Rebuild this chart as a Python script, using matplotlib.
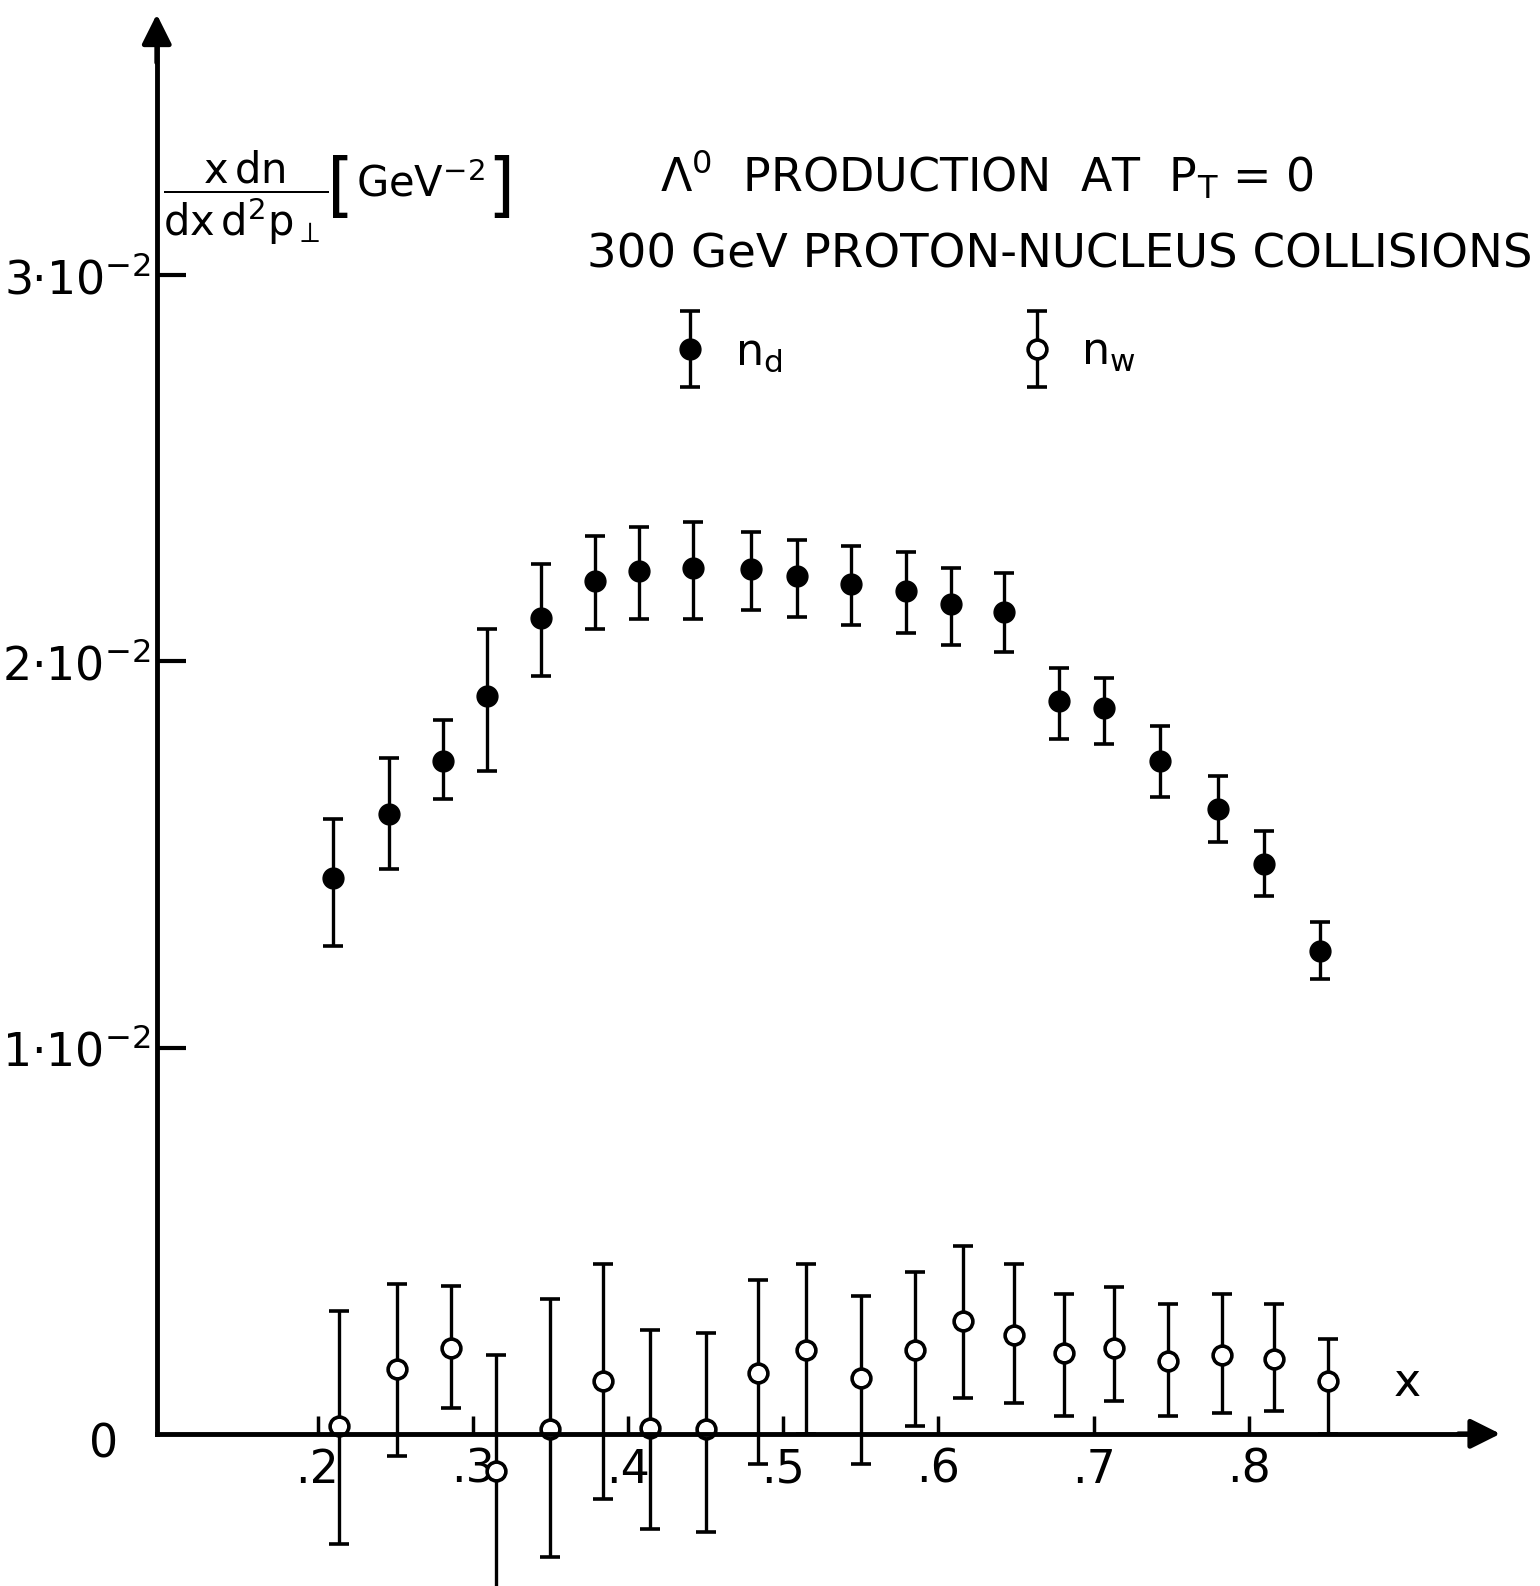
import matplotlib
matplotlib.use('Agg')
import matplotlib.pyplot as plt
import numpy as np
from matplotlib.container import ErrorbarContainer
from matplotlib.legend_handler import HandlerErrorbar
from matplotlib.ticker import FixedLocator, FixedFormatter

plt.rcParams['font.family'] = ['DejaVu Sans']
plt.rcParams['mathtext.fontset'] = 'custom'
plt.rcParams['mathtext.rm'] = 'DejaVu Sans'
plt.rcParams['mathtext.it'] = 'DejaVu Sans'
plt.rcParams['mathtext.sf'] = 'DejaVu Sans'
plt.rcParams['mathtext.bf'] = 'DejaVu Sans:bold'

# ---- data (y in units of 1e-2 GeV^-2) ----
x_d = [0.210, 0.246, 0.281, 0.309, 0.344, 0.379, 0.407, 0.442, 0.479, 0.509,
       0.544, 0.579, 0.608, 0.642, 0.678, 0.707, 0.743, 0.780, 0.810, 0.846]
n_d = [1.440, 1.605, 1.743, 1.911, 2.113, 2.207, 2.233, 2.241, 2.238, 2.220,
       2.199, 2.181, 2.149, 2.128, 1.898, 1.880, 1.743, 1.618, 1.474, 1.251]
n_d_hi = [1.592, 1.749, 1.848, 2.084, 2.251, 2.325, 2.348, 2.361, 2.335, 2.314,
          2.298, 2.283, 2.241, 2.228, 1.982, 1.958, 1.832, 1.702, 1.560, 1.325]
n_d_lo = [1.264, 1.461, 1.644, 1.717, 1.963, 2.084, 2.110, 2.110, 2.134, 2.115,
          2.094, 2.073, 2.042, 2.024, 1.798, 1.785, 1.649, 1.531, 1.393, 1.178]

x_w = [0.214, 0.251, 0.286, 0.315, 0.350, 0.384, 0.414, 0.450, 0.484, 0.515,
       0.550, 0.585, 0.616, 0.649, 0.681, 0.713, 0.748, 0.783, 0.816, 0.851]
n_w = [0.021, 0.168, 0.223, -0.097, 0.013, 0.136, 0.016, 0.013, 0.157, 0.217,
       0.144, 0.217, 0.293, 0.257, 0.209, 0.223, 0.188, 0.204, 0.194, 0.136]
n_w_hi = [0.319, 0.387, 0.382, 0.204, 0.348, 0.440, 0.270, 0.262, 0.398, 0.440,
          0.356, 0.419, 0.487, 0.440, 0.361, 0.380, 0.335, 0.361, 0.335, 0.246]
n_w_lo = [-0.285, -0.058, 0.068, -0.420, -0.319, -0.168, -0.246, -0.254, -0.079, 0.000,
          -0.079, 0.021, 0.094, 0.079, 0.047, 0.086, 0.047, 0.055, 0.060, 0.000]

x_ticks = [0.2, 0.3, 0.4, 0.5, 0.6, 0.7, 0.8]
x_tick_labels = ['.2', '.3', '.4', '.5', '.6', '.7', '.8']
y_ticks = [1, 2, 3]
y_tick_labels = ['1·10$^{-2}$', '2·10$^{-2}$', '3·10$^{-2}$']

# ---- figure ----
fig = plt.figure(figsize=(15.4, 15.86), dpi=100)
ax = fig.add_axes([0, 0, 1, 1])
ax.set_xlim(-0.0046, 0.9876)
ax.set_ylim(-0.394, 3.712)
ax.patch.set_visible(False)

X0 = 0.0964      # where the vertical axis is drawn
XEND = 0.955
YTOP = 3.60
LW = 3.5

for s in ['top', 'right']:
    ax.spines[s].set_visible(False)
ax.spines['left'].set_position(('data', X0))
ax.spines['bottom'].set_position(('data', 0))
ax.spines['left'].set_bounds(0, YTOP)
ax.spines['bottom'].set_bounds(X0, XEND)
ax.spines['left'].set_linewidth(LW)
ax.spines['bottom'].set_linewidth(LW)

ax.annotate('', xy=(X0, 3.675), xytext=(X0, YTOP - 0.05),
            arrowprops=dict(arrowstyle='-|>', lw=LW, color='black', mutation_scale=45,
                            shrinkA=0, shrinkB=0))
ax.annotate('', xy=(0.962, 0), xytext=(XEND - 0.02, 0),
            arrowprops=dict(arrowstyle='-|>', lw=LW, color='black', mutation_scale=45,
                            shrinkA=0, shrinkB=0))

ax.xaxis.set_major_locator(FixedLocator(x_ticks))
ax.xaxis.set_major_formatter(FixedFormatter(x_tick_labels))
ax.yaxis.set_major_locator(FixedLocator(y_ticks))
ax.yaxis.set_major_formatter(FixedFormatter(y_tick_labels))
ax.tick_params(axis='x', direction='in', length=13, width=2.5, pad=10, labelsize=33)
ax.tick_params(axis='y', direction='in', length=21, width=3, pad=4, labelsize=33)

ax.text(X0 - 0.025, -0.03, '0', fontsize=33, ha='right', va='center')
ax.text(0.902, 0.131, 'x', fontsize=33, ha='center', va='center')

# ---- data series ----
err_d = [np.array(n_d) - np.array(n_d_lo), np.array(n_d_hi) - np.array(n_d)]
err_w = [np.array(n_w) - np.array(n_w_lo), np.array(n_w_hi) - np.array(n_w)]

cd = ax.errorbar(x_d, n_d, yerr=err_d, fmt='o', color='black', ms=15,
                 mfc='black', mec='black', elinewidth=2.4, capsize=7, capthick=2.6,
                 clip_on=False)
cw = ax.errorbar(x_w, n_w, yerr=err_w, fmt='o', color='black', ms=13.5,
                 mfc='white', mec='black', mew=2.6, elinewidth=2.4, capsize=7,
                 capthick=2.6, clip_on=False)

# ---- labels / titles ----
ax.text(0.1537, 3.20, r'$\dfrac{\mathrm{x\,dn}}{\mathrm{dx\,d^{2}p_{\perp}}}$',
        fontsize=30, ha='center', va='center')
ax.text(0.2150, 3.225, '[', fontsize=50, ha='center', va='center')
ax.text(0.2662, 3.235, 'GeV$^{-2}$', fontsize=30, ha='center', va='center')
ax.text(0.3178, 3.225, ']', fontsize=50, ha='center', va='center')

ax.text(0.6313, 3.26, r'$\Lambda^{0}$  PRODUCTION  AT  P$_{\mathrm{T}}$ = 0',
        fontsize=33, ha='center', va='center')
ax.text(0.3733, 3.052, '300 GeV PROTON-NUCLEUS COLLISIONS',
        fontsize=33.6, ha='left', va='center')

leg = ax.legend([cd, cw], ['n$_{\\mathrm{d}}$', 'n$_{\\mathrm{w}}$'], ncol=2,
                loc='center', bbox_to_anchor=(0.578, 2.80),
                bbox_transform=ax.transData, frameon=False, fontsize=32,
                handlelength=0.8, handletextpad=0.6, columnspacing=5.32,
                borderpad=0, borderaxespad=0,
                handler_map={ErrorbarContainer: HandlerErrorbar(xerr_size=0.4, yerr_size=0.85)})

fig.savefig('out.png', dpi=100, facecolor='white')
